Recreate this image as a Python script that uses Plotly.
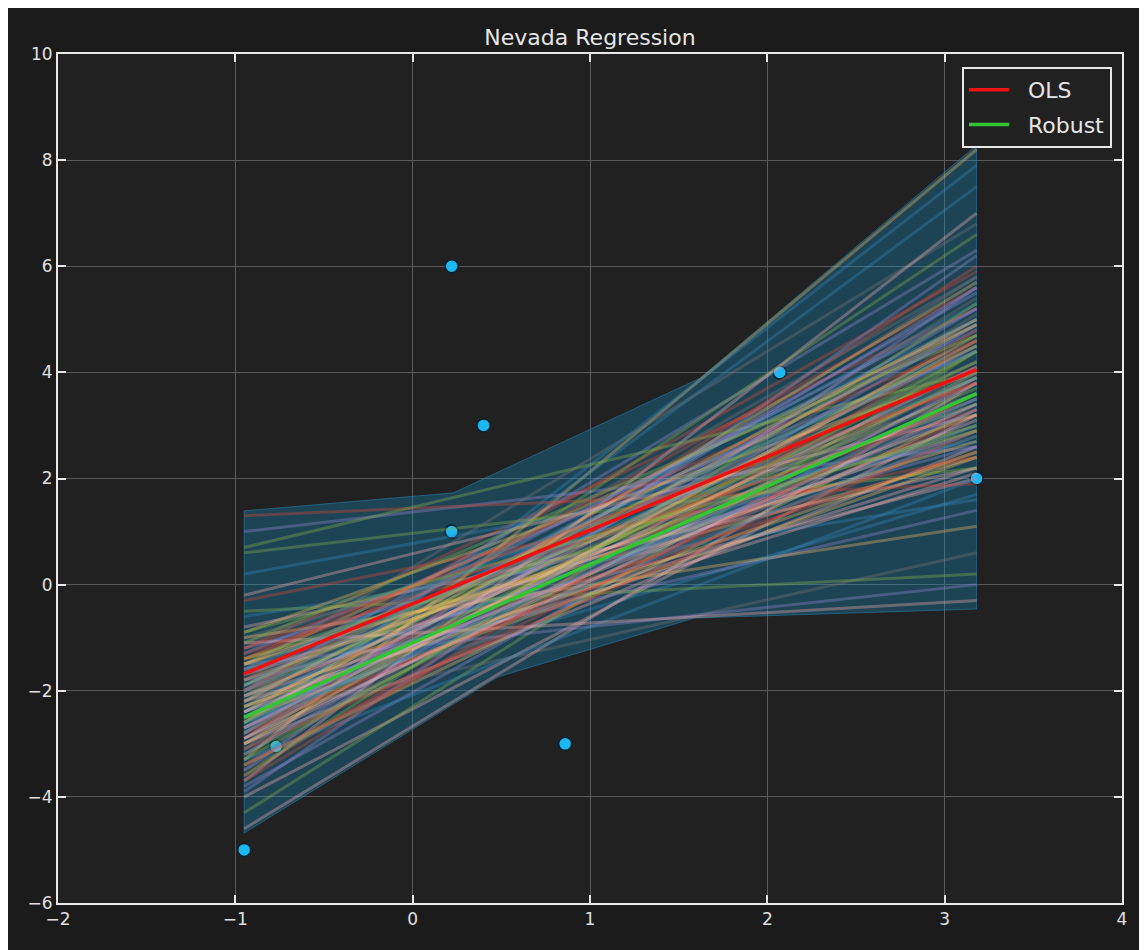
import plotly.graph_objects as go

# ---- data ----
pts_x = [-0.95, -0.77, 0.22, 0.22, 0.40, 0.86, 2.07, 3.18]
pts_y = [-5.0, -3.05, 6.0, 1.0, 3.0, -3.0, 4.0, 2.0]

line_x = [-0.95, 3.18]

# bootstrap regression lines: value at left end / right end
boot_left = [
    -1.7, -2.5, -2.0, -2.2, -1.5, -2.8, -3.0, -1.2, -1.9, -2.4,
    -2.6, -1.4, -3.2, -2.1, -1.8, -2.3, -2.7, -1.0, -3.4, -2.0,
    -1.6, -2.9, -2.2, -1.3, -3.1, -2.5, -1.9, -0.8, -3.6, -2.4,
    -2.0, -1.1, -3.3, -2.6, -1.7, -2.8, -0.6, -3.8, -2.3, -1.5,
    -2.1, -4.0, -0.3, -2.7, -1.8, -3.0, -0.9, -4.3, -2.2, -1.4,
    0.2, -3.5, -2.5, -1.0, 0.6, -4.6, -2.0, -3.3, 1.0, -1.6,
    -2.9, -0.5, -3.7, 1.3, -2.4, -1.2, -3.1, -2.6, -1.9, -0.2,
    -2.0, -2.8, -1.5, -3.4, -2.3, 0.7, -1.1, -2.7, -1.7, -3.9,
    -2.2, -1.8, -2.6, -3.0, -1.4, -2.0, -2.9, -1.6, -2.4, -3.3,
    -2.1, -1.3, -2.7, -1.9, -3.5, -2.3, -1.1, -2.5, -3.1, -1.7,
    -2.8, -2.0, -1.5, -3.6, -2.4, -1.2, -2.6, -3.2, -1.8, -2.2,
    -0.9, -2.9, -3.7, -1.6, -2.5, -2.1, -3.0, -1.4, -2.7, -3.4,
]
boot_right = [
    4.1, 3.6, 4.8, 3.0, 3.4, 4.4, 2.6, 5.2, 2.8, 5.5,
    3.9, 2.4, 4.0, 2.2, 5.9, 4.6, 5.0, 3.0, 3.3, 3.7,
    2.0, 6.0, 5.3, 4.4, 5.4, 2.4, 3.9, 2.2, 4.8, 1.7,
    6.3, 3.6, 8.2, 6.6, 2.9, 3.2, 1.6, 3.9, 2.8, 4.9,
    4.2, 3.2, 2.4, 7.5, 1.4, 5.8, 4.0, 4.4, 2.1, 3.8,
    2.7, 6.2, 0.6, 1.1, 2.2, 3.8, 5.6, 2.0, 2.6, 6.8,
    4.6, 0.2, 7.0, 1.9, 3.4, 2.6, 3.6, 5.7, 4.5, 3.2,
    2.5, 7.9, 0.0, 5.1, 3.9, 4.0, -0.3, 2.9, 5.0, 5.6,
    4.0, 3.2, 4.2, 3.8, 4.6, 3.0, 5.2, 3.6, 4.9, 4.4,
    3.5, 3.3, 3.5, 5.2, 4.0, 2.5, 4.7, 4.5, 2.9, 3.9,
    5.6, 4.4, 2.7, 5.3, 3.1, 3.8, 2.9, 4.9, 4.2, 5.0,
    2.9, 3.4, 4.6, 4.4, 3.3, 5.8, 4.7, 3.0, 4.1, 3.6,
]
boot_colors = ['#E24A33', '#348ABD', '#988ED5', '#777777', '#FBC15E', '#8EBA42', '#FFB5B8']

# prediction band outline
band_upper_x = [-0.95, 0.23, 1.62, 3.18]
band_upper_y = [1.39, 1.73, 3.89, 8.28]
band_lower_x = [-0.95, 0.48, 1.59, 3.18]
band_lower_y = [-4.68, -1.74, -0.63, -0.46]

ols_y = [-1.68, 4.05]
robust_y = [-2.50, 3.60]

legend_names = ['OLS', 'Robust']


def hex_rgba(h, a):
    h = h.lstrip('#')
    return 'rgba(%d,%d,%d,%.3f)' % (int(h[0:2], 16), int(h[2:4], 16), int(h[4:6], 16), a)


fig = go.Figure()

# band
fig.add_trace(go.Scatter(
    x=band_upper_x + band_lower_x[::-1] + band_upper_x[:1],
    y=band_upper_y + band_lower_y[::-1] + band_upper_y[:1],
    mode='lines', fill='toself',
    fillcolor='rgba(20,140,190,0.33)',
    line=dict(color='rgba(40,150,200,0.45)', width=1),
    showlegend=False, hoverinfo='skip'))

# data points
fig.add_trace(go.Scatter(
    x=pts_x, y=pts_y, mode='markers',
    marker=dict(size=13, color='#1cb8f2', line=dict(color='#06202e', width=1.5)),
    showlegend=False, hoverinfo='skip'))

# bootstrap lines
for i, (l, r) in enumerate(zip(boot_left, boot_right)):
    c = boot_colors[i % len(boot_colors)]
    fig.add_trace(go.Scatter(
        x=line_x, y=[l, r], mode='lines',
        line=dict(color=hex_rgba(c, 0.34), width=3),
        showlegend=False, hoverinfo='skip'))

pad = '\u00a0\u00a0'
fig.add_trace(go.Scatter(x=line_x, y=ols_y, mode='lines', name=pad + legend_names[0],
                         line=dict(color='#f01010', width=3.5), legendgroup='a'))
fig.add_trace(go.Scatter(x=line_x, y=robust_y, mode='lines', name=pad + legend_names[1],
                         line=dict(color='#33c633', width=3.5), legendgroup='b'))

# page body has an 8px margin, so the figure is sized to fill the rest
W, H = 1139, 942
L, R, T, B = 50, 25, 46, 47
pw, ph = W - L - R, H - T - B


def px_to_paper_x(px):
    return (px - L) / pw


def py_to_paper_y(py):
    return (H - B - py) / ph


axis_common = dict(
    showline=True, linecolor='#e8e8e8', linewidth=2, mirror='ticks',
    ticks='inside', ticklen=8, tickwidth=1.5, tickcolor='#e8e8e8',
    showgrid=True, gridcolor='#5a5a5a', gridwidth=1, zeroline=False,
    tickfont=dict(size=17, color='#e0e0e0', family='DejaVu Sans'),
)

fig.update_layout(
    width=W, height=H,
    margin=dict(l=L, r=R, t=T, b=B),
    paper_bgcolor='#1b1b1b', plot_bgcolor='#212121',
    font=dict(family='DejaVu Sans', color='#e0e0e0'),
    title=dict(text='Nevada Regression', x=0.5, xref='paper', xanchor='center',
               y=1 - 29 / H, yref='container', yanchor='middle',
               font=dict(size=22, color='#e6e6e6', family='DejaVu Sans')),
    xaxis=dict(range=[-2, 4], dtick=1, tick0=0, **axis_common),
    yaxis=dict(range=[-6, 10], dtick=2, tick0=0, **axis_common),
    legend=dict(x=px_to_paper_x(1104), y=py_to_paper_y(59), xanchor='right', yanchor='top',
                bgcolor='#212121', bordercolor='#e8e8e8', borderwidth=2,
                font=dict(size=22, color='#e6e6e6', family='DejaVu Sans'),
                itemwidth=40,
                traceorder='grouped', tracegroupgap=3),
    hovermode=False,
)

fig.write_html('out.html')
